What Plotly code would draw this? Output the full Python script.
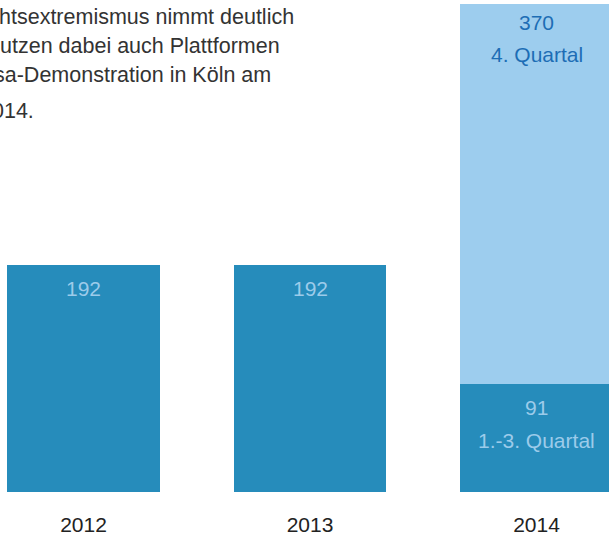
import plotly.graph_objects as go

# ---- data ----
years = ["2012", "2013", "2014"]
base_values = [192, 192, 91]          # full year (2012, 2013) / Q1-Q3 (2014)
q4_values = [0, 0, 370]               # 4th quarter 2014
base_sublabels = ["", "", "1.-3. Quartal"]
q4_sublabels = ["", "", "4. Quartal"]
intro_lines = [
    "htsextremismus nimmt deutlich",
    "utzen dabei auch Plattformen",
    "sa-Demonstration in Köln am",
    "014.",
]

DARK = "#268cbb"
LIGHT = "#9dcdee"
LABEL_ON_DARK = "#9ccbea"
LABEL_ON_LIGHT = "#1d6db5"
FONT = "Liberation Sans, Arial, sans-serif"

Y_MAX = 412.8
xs = list(range(len(years)))

fig = go.Figure()
fig.add_trace(go.Bar(x=xs, y=base_values, marker=dict(color=DARK, line=dict(width=0)),
                     width=0.675, hoverinfo="skip"))
fig.add_trace(go.Bar(x=xs, y=q4_values, marker=dict(color=LIGHT, line=dict(width=0)),
                     width=0.675, hoverinfo="skip"))

ann = []
for i, (b, q) in enumerate(zip(base_values, q4_values)):
    ann.append(dict(x=i, y=b, xref="x", yref="y", text=str(b), showarrow=False,
                    yanchor="middle", yshift=-23,
                    font=dict(family=FONT, size=21, color=LABEL_ON_DARK)))
    if base_sublabels[i]:
        ann.append(dict(x=i, y=b, xref="x", yref="y", text=base_sublabels[i], showarrow=False,
                        yanchor="middle", yshift=-56,
                        font=dict(family=FONT, size=21, color=LABEL_ON_DARK)))
    if q > 0:
        top = min(b + q, Y_MAX)
        ann.append(dict(x=i, y=top, xref="x", yref="y", text=str(q), showarrow=False,
                        yanchor="middle", yshift=-18,
                        font=dict(family=FONT, size=21, color=LABEL_ON_LIGHT)))
        ann.append(dict(x=i, y=top, xref="x", yref="y", text=q4_sublabels[i], showarrow=False,
                        yanchor="middle", yshift=-50.5,
                        font=dict(family=FONT, size=21, color=LABEL_ON_LIGHT)))

# intro paragraph (cropped on the left in the original)
line_offsets = [(-3, 16.5), (-1.6, 46), (-7.6, 75), (-10.5, 110.5)]
for txt, (dx, cy) in zip(intro_lines, line_offsets):
    ann.append(dict(x=0, y=1, xref="paper", yref="paper", text=txt, showarrow=False,
                    xanchor="left", yanchor="middle", xshift=dx, yshift=-(cy - 4),
                    align="left",
                    font=dict(family=FONT, size=21.5, color="#333333")))

fig.update_layout(
    width=609, height=540,
    margin=dict(l=0, r=0, t=4, b=48),
    barmode="stack",
    bargap=0,
    paper_bgcolor="white",
    plot_bgcolor="white",
    showlegend=False,
    hovermode=False,
    annotations=ann,
    xaxis=dict(range=[-0.3687, 2.3201], tickmode="array", tickvals=xs, ticktext=years,
               showgrid=False, zeroline=False, showline=False,
               ticks="outside", ticklen=14, tickcolor="rgba(0,0,0,0)",
               tickfont=dict(family=FONT, size=21, color="#222222"),
               fixedrange=True),
    yaxis=dict(range=[0, Y_MAX], visible=False, showgrid=False, zeroline=False,
               fixedrange=True),
)

fig.write_html("out.html", config={"displayModeBar": False},
               post_script="document.body.style.margin='0';document.body.style.overflow='hidden';")
